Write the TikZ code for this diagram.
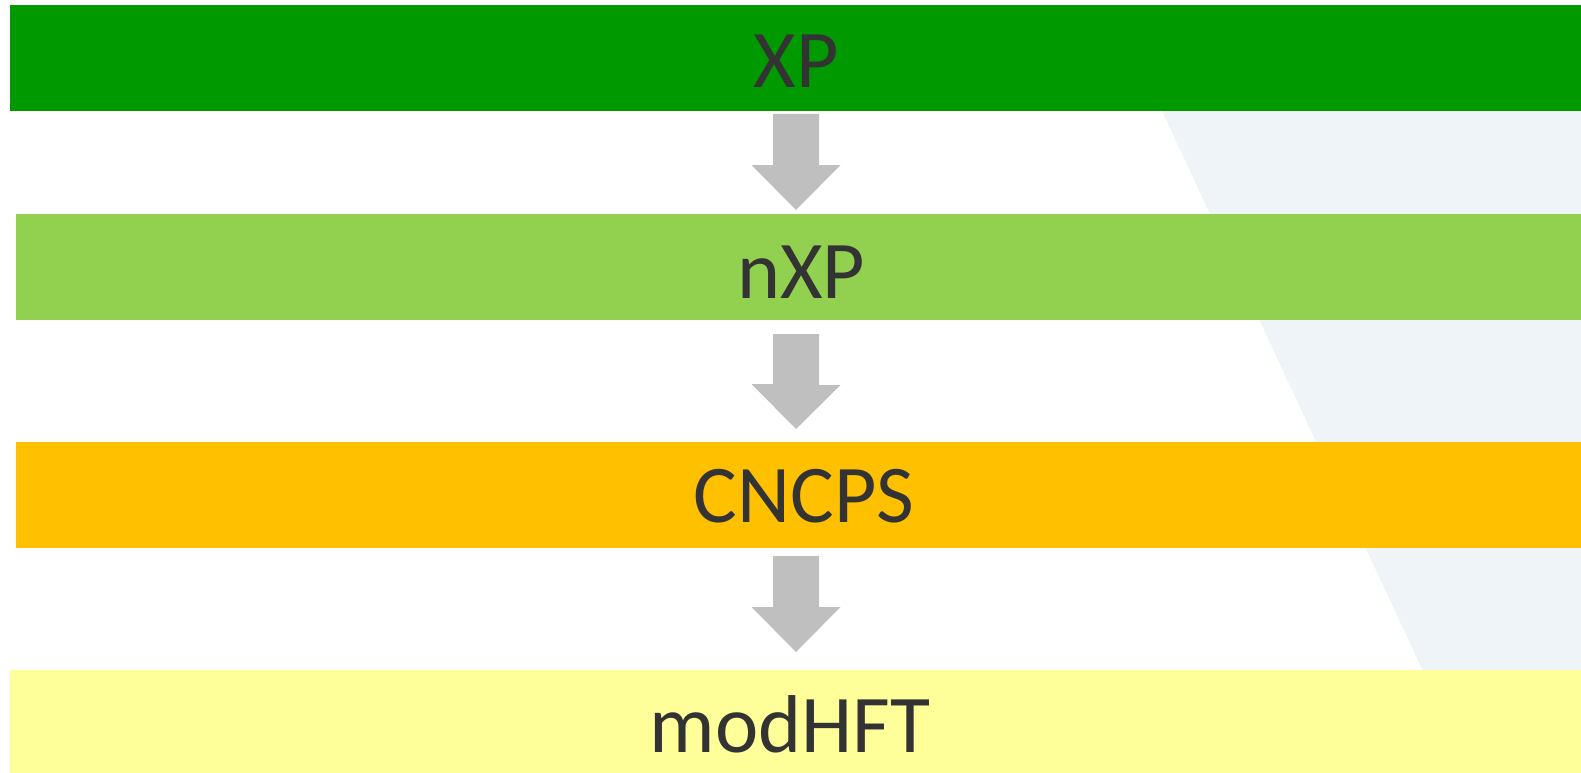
\documentclass[tikz,border=0pt]{standalone}
\usepackage{fontspec}
\setmainfont{Carlito}
\definecolor{xpgreen}{HTML}{009900}
\definecolor{nxpgreen}{HTML}{92D050}
\definecolor{cncpsorange}{HTML}{FFC000}
\definecolor{modyellow}{HTML}{FFFF99}
\definecolor{bgblue}{HTML}{EEF4F7}
\definecolor{arrowgray}{HTML}{BFBFBF}
\definecolor{txtgray}{HTML}{333333}
\tikzset{
  bar/.style={rectangle, inner sep=0pt, outer sep=0pt, draw=none, minimum height=106pt},
  lbl/.style={anchor=base, inner sep=0pt, text=txtgray, font=\fontsize{82}{98}\selectfont},
  blockarrow/.style={fill=arrowgray, draw=none},
}
\begin{document}
\begin{tikzpicture}[x=1pt,y=-1pt]
\useasboundingbox (0,0) rectangle (1581,773);
% background band
\fill[bgblue] (1162,111) -- (1581,111) -- (1581,670) -- (1422.5,670) -- cycle;
% bars
\node[bar, fill=xpgreen, minimum width=1571pt] (xp) at (795.5,58) {};
\node[bar, fill=nxpgreen, minimum width=1565pt] (nxp) at (798.5,267) {};
\node[bar, fill=cncpsorange, minimum width=1565pt] (cncps) at (798.5,495) {};
\node[bar, fill=modyellow, minimum width=1571pt, minimum height=103pt] (mod) at (795.5,721.5) {};
% labels
\node[lbl] (xpt) at (796,88) {XP};
\node[lbl] (nxpt) at (801,298) {nXP};
\node[lbl] (cncpst) at (804,522) {CNCPS};
\node[lbl] (modt) at (790,752) {modHFT};
% arrow axis
\coordinate (axis) at (796,0);
% arrows
\fill[blockarrow] ([yshift=-3pt]axis |- xp.south) ++(-23,0) -- ++(46,0) -- ++(0,51) -- ++(21.5,0) -- ([yshift=4pt]axis |- nxp.north) -- ++(-44.5,-45) -- ++(21.5,0) -- cycle;
\fill[blockarrow] ([yshift=-14pt]axis |- nxp.south) ++(-23,0) -- ++(46,0) -- ++(0,51) -- ++(21.5,0) -- ([yshift=13pt]axis |- cncps.north) -- ++(-44.5,-45) -- ++(21.5,0) -- cycle;
\fill[blockarrow] ([yshift=-8pt]axis |- cncps.south) ++(-23,0) -- ++(46,0) -- ++(0,51) -- ++(21.5,0) -- ([yshift=18pt]axis |- mod.north) -- ++(-44.5,-45) -- ++(21.5,0) -- cycle;
\end{tikzpicture}
\end{document}
